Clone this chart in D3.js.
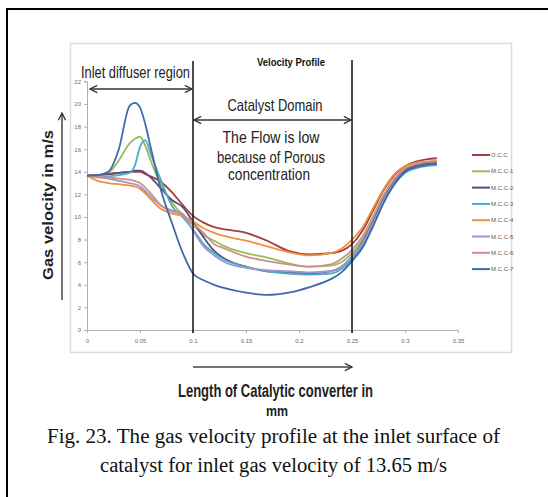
<!DOCTYPE html>
<html>
<head>
<meta charset="utf-8">
<script src="https://cdn.jsdelivr.net/npm/d3@7"></script>
<style>
  body { margin: 0; background: #fff; }
  svg { display: block; }
</style>
</head>
<body>
<div id="chart"></div>
<script>
// x positions (length along converter)
var xs = [0, 0.01, 0.02, 0.03, 0.04, 0.045, 0.05, 0.055, 0.06, 0.07, 0.08, 0.09, 0.1, 0.11, 0.12, 0.13,
          0.15, 0.17, 0.19, 0.21, 0.23, 0.24, 0.25, 0.26, 0.27, 0.28, 0.29, 0.3, 0.31, 0.32, 0.33];

var seriesNames = ["O.C.C", "M.C.C-1", "M.C.C-2", "M.C.C-3", "M.C.C-4", "M.C.C-5", "M.C.C-6", "M.C.C-7"];
var seriesColors = ["#a3403b", "#9bbb59", "#5d4a7c", "#4bacc6", "#f0903f", "#9f95d0", "#c8928c", "#3f6aa6"];

var occ  = [13.65, 13.7, 13.8, 13.9, 14.0, 14.0, 14.0, 13.8, 13.6, 13.1, 12.2, 11.1, 10.1, 9.5, 9.1, 8.9,
            8.6, 7.9, 7.0, 6.7, 6.8, 7.0, 7.6, 8.8, 10.6, 12.4, 13.7, 14.5, 14.9, 15.1, 15.2];
var mcc1 = [13.65, 13.7, 13.9, 15.0, 16.5, 16.9, 17.1, 16.3, 15.0, 12.8, 11.3, 10.2, 9.3, 8.4, 7.9, 7.4,
            6.8, 6.4, 5.9, 5.6, 5.7, 6.0, 6.8, 8.0, 9.8, 11.8, 13.3, 14.2, 14.6, 14.8, 14.9];
var mcc2 = [13.65, 13.7, 13.8, 13.9, 14.0, 14.1, 14.1, 13.9, 13.5, 12.5, 11.5, 10.9, 9.6, 8.2, 7.0, 6.3,
            5.6, 5.2, 5.1, 5.0, 5.2, 5.6, 6.5, 7.8, 9.6, 11.6, 13.1, 14.1, 14.5, 14.7, 14.8];
var mcc3 = [13.65, 13.6, 13.6, 13.7, 13.9, 14.5, 16.2, 16.8, 15.6, 13.2, 11.0, 10.0, 8.9, 7.6, 6.8, 6.2,
            5.6, 5.2, 5.0, 4.9, 5.0, 5.4, 6.3, 7.5, 9.3, 11.3, 12.9, 13.9, 14.3, 14.5, 14.6];
var mcc4 = [13.65, 13.2, 13.0, 12.9, 12.8, 12.7, 12.5, 12.1, 11.6, 10.7, 10.3, 10.1, 9.6, 9.0, 8.6, 8.3,
            7.9, 7.4, 6.9, 6.6, 6.8, 7.2, 8.0, 9.1, 10.8, 12.5, 13.8, 14.5, 14.8, 14.9, 15.0];
var mcc5 = [13.65, 13.5, 13.4, 13.2, 13.0, 12.9, 12.7, 12.3, 11.8, 11.0, 10.6, 10.3, 8.8, 7.4, 6.6, 6.0,
            5.5, 5.3, 5.2, 5.1, 5.2, 5.6, 6.5, 7.7, 9.5, 11.5, 13.0, 14.0, 14.4, 14.6, 14.7];
var mcc6 = [13.65, 13.6, 13.5, 13.4, 13.3, 13.2, 13.0, 12.6, 12.1, 11.0, 10.5, 10.2, 9.4, 8.6, 7.6, 7.2,
            6.5, 6.1, 5.8, 5.6, 5.8, 6.3, 7.1, 8.3, 10.1, 12.0, 13.4, 14.3, 14.7, 14.9, 14.9];
var mcc7 = [13.65, 13.7, 14.0, 16.0, 19.8, 20.1, 19.7, 18.2, 16.2, 12.3, 9.5, 6.9, 5.0, 4.4, 4.0, 3.7,
            3.3, 3.1, 3.3, 3.8, 4.5, 5.1, 6.1, 7.3, 9.2, 11.3, 12.9, 14.0, 14.4, 14.6, 14.7];

var seriesValues = [occ, mcc1, mcc2, mcc3, mcc4, mcc5, mcc6, mcc7];

var xTicks = [0, 0.05, 0.1, 0.15, 0.2, 0.25, 0.3, 0.35];
var xTickLabels = ["0", "0.05", "0.1", "0.15", "0.2", "0.25", "0.3", "0.35"];
var yTicks = [0, 2, 4, 6, 8, 10, 12, 14, 16, 18, 20, 22];

var width = 548, height = 497;

var svg = d3.select("#chart").append("svg")
    .attr("width", width)
    .attr("height", height);

// outer figure frame (left and top edges visible)
svg.append("path")
    .attr("d", "M7,497 L7,9 L548,9")
    .attr("fill", "none")
    .attr("stroke", "#000")
    .attr("stroke-width", 2);

// chart area border
svg.append("rect")
    .attr("x", 70.5).attr("y", 43.5)
    .attr("width", 441).attr("height", 309)
    .attr("fill", "#fff")
    .attr("stroke", "#dcdcdc")
    .attr("stroke-width", 1.5);

// scales
var x = d3.scaleLinear().domain([0, 0.35]).range([87, 458]);
var y = d3.scaleLinear().domain([0, 22]).range([330, 81.4]);

// axes
var xAxis = d3.axisBottom(x).tickValues(xTicks).tickFormat((d, i) => xTickLabels[i]).tickSize(3);
var yAxis = d3.axisLeft(y).tickValues(yTicks).tickSize(3);

var gx = svg.append("g").attr("transform", "translate(0," + y(0) + ")").call(xAxis);
var gy = svg.append("g").attr("transform", "translate(" + x(0) + ",0)").call(yAxis);

[gx, gy].forEach(function (g) {
    g.select(".domain").attr("stroke", "#b0b0b0");
    g.selectAll(".tick line").attr("stroke", "#b0b0b0");
    g.selectAll(".tick text")
        .attr("fill", "#6b6b6b")
        .style("font-family", "Liberation Sans Narrow, Arial Narrow, Liberation Sans, sans-serif")
        .style("font-size", "6px");
});
gx.selectAll(".tick text").attr("dy", "1.1em");

// series lines
var line = d3.line()
    .x((d, i) => x(xs[i]))
    .y(d => y(d))
    .curve(d3.curveMonotoneX);

svg.append("g").selectAll("path")
    .data(seriesValues)
    .enter()
    .append("path")
    .attr("d", line)
    .attr("fill", "none")
    .attr("stroke", (d, i) => seriesColors[i])
    .attr("stroke-width", 1.8)
    .attr("stroke-linejoin", "round");

// legend
var legend = svg.append("g").attr("transform", "translate(472,155)");
var item = legend.selectAll("g")
    .data(seriesNames)
    .enter()
    .append("g")
    .attr("transform", (d, i) => "translate(0," + (i * 16.3) + ")");
item.append("line")
    .attr("x1", 0).attr("x2", 18)
    .attr("stroke", (d, i) => seriesColors[i])
    .attr("stroke-width", 2);
item.append("text")
    .attr("x", 19).attr("dy", "0.35em")
    .attr("fill", "#595959")
    .style("font-family", "Liberation Sans Narrow, Arial Narrow, Liberation Sans, sans-serif")
    .style("font-size", "6px")
    .text(d => d);

// arrow marker
var defs = svg.append("defs");
defs.append("marker")
    .attr("id", "head")
    .attr("viewBox", "0 0 10 10")
    .attr("refX", 9).attr("refY", 5)
    .attr("markerWidth", 6).attr("markerHeight", 6)
    .attr("orient", "auto-start-reverse")
    .append("path")
    .attr("d", "M1,1 L9,5 L1,9")
    .attr("fill", "none")
    .attr("stroke", "#333")
    .attr("stroke-width", 1.5);

// region boundaries
[[0.1, 61], [0.25, 60]].forEach(function (b) {
    svg.append("line")
        .attr("x1", x(b[0])).attr("x2", x(b[0]))
        .attr("y1", b[1]).attr("y2", 333)
        .attr("stroke", "#111")
        .attr("stroke-width", 1.5);
});

// region arrows
svg.append("line")
    .attr("x1", 90).attr("x2", x(0.1) - 1)
    .attr("y1", 89).attr("y2", 89)
    .attr("stroke", "#333").attr("stroke-width", 1.5)
    .attr("marker-start", "url(#head)").attr("marker-end", "url(#head)");
svg.append("line")
    .attr("x1", x(0.1) + 1).attr("x2", x(0.25) - 1)
    .attr("y1", 120).attr("y2", 120)
    .attr("stroke", "#333").attr("stroke-width", 1.5)
    .attr("marker-start", "url(#head)").attr("marker-end", "url(#head)");

// axis direction arrows
svg.append("line")
    .attr("x1", 62).attr("x2", 62)
    .attr("y1", 300).attr("y2", 113)
    .attr("stroke", "#444").attr("stroke-width", 1.5)
    .attr("marker-end", "url(#head)");
svg.append("line")
    .attr("x1", x(0.1)).attr("x2", x(0.25))
    .attr("y1", 367).attr("y2", 367)
    .attr("stroke", "#444").attr("stroke-width", 1.5)
    .attr("marker-end", "url(#head)");

// annotation texts
var narrow = "Liberation Sans Narrow, Arial Narrow, Liberation Sans, sans-serif";
function label(txt, cx, by, size, len, weight, fill) {
    return svg.append("text")
        .attr("x", cx).attr("y", by)
        .attr("text-anchor", "middle")
        .attr("textLength", len)
        .attr("lengthAdjust", "spacingAndGlyphs")
        .attr("fill", fill || "#222")
        .style("font-family", narrow)
        .style("font-size", size + "px")
        .style("font-weight", weight || "normal")
        .text(txt);
}

label("Inlet diffuser region", 135.5, 78, 16.5, 109);
label("Velocity Profile", 291, 66, 11, 68, "bold", "#111");
label("Catalyst Domain", 275, 111, 16.5, 95);
label("The Flow is low", 271, 143, 16.5, 97);
label("because of Porous", 271, 163, 16.5, 108);
label("concentration", 269, 180, 16.5, 82);

// axis titles
svg.append("text")
    .attr("transform", "translate(53,205) rotate(-90)")
    .attr("text-anchor", "middle")
    .attr("textLength", 150)
    .attr("lengthAdjust", "spacingAndGlyphs")
    .attr("fill", "#222")
    .style("font-family", "Liberation Sans, Arial, sans-serif")
    .style("font-size", "14px")
    .style("font-weight", "bold")
    .text("Gas velocity in m/s");

label("Length of Catalytic converter in", 275.5, 397, 17.5, 195, "bold");
label("mm", 277, 416, 14.5, 22, "bold");

// caption
var serif = "Liberation Serif, Times New Roman, serif";
svg.append("text")
    .attr("x", 273.5).attr("y", 443)
    .attr("text-anchor", "middle")
    .attr("textLength", 453)
    .attr("lengthAdjust", "spacingAndGlyphs")
    .attr("fill", "#111")
    .style("font-family", serif)
    .style("font-size", "20.5px")
    .text("Fig. 23. The gas velocity profile at the inlet surface of");
svg.append("text")
    .attr("x", 273.5).attr("y", 472)
    .attr("text-anchor", "middle")
    .attr("textLength", 347)
    .attr("lengthAdjust", "spacingAndGlyphs")
    .attr("fill", "#111")
    .style("font-family", serif)
    .style("font-size", "20.5px")
    .text("catalyst for inlet gas velocity of 13.65 m/s");
</script>
</body>
</html>
